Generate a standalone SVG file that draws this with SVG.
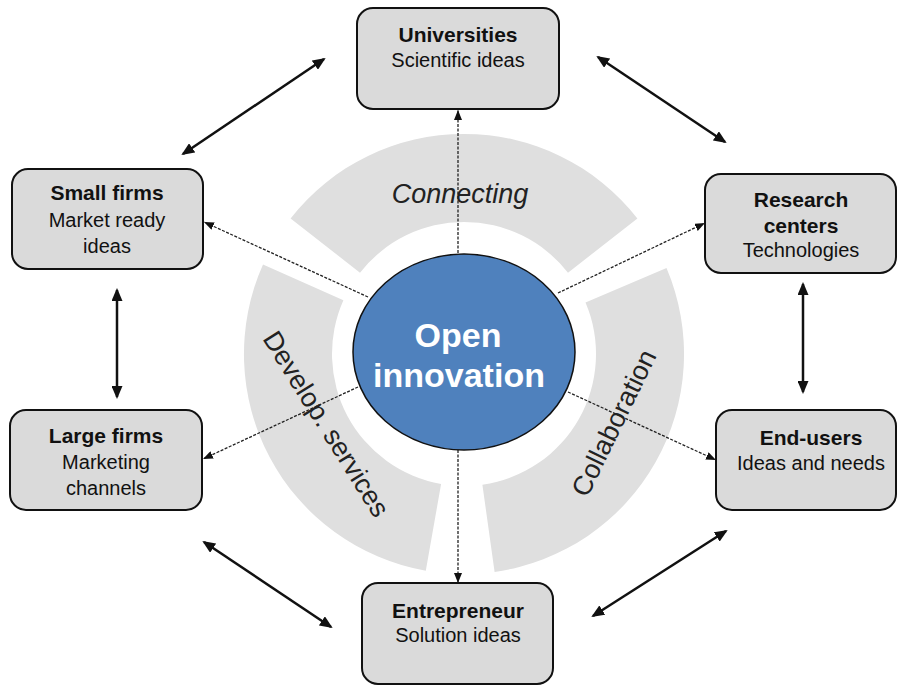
<svg xmlns="http://www.w3.org/2000/svg" width="897" height="686" viewBox="0 0 897 686">
<style>
.box{fill:#dadada;stroke:#111;stroke-width:2}
.t{font-family:"Liberation Sans",Arial,sans-serif;font-size:21px;font-weight:bold;fill:#111;text-anchor:middle}
.s{font-family:"Liberation Sans",Arial,sans-serif;font-size:20px;fill:#111;text-anchor:middle}
.ring{fill:#dfdfdf}
.rl{font-family:"Liberation Sans",Arial,sans-serif;font-size:27px;fill:#222;text-anchor:middle}
.dot{stroke:#222;stroke-width:1.3;stroke-dasharray:3 1.5;fill:none;marker-end:url(#sa)}
.dbl{stroke:#111;stroke-width:2.5;fill:none;marker-start:url(#la);marker-end:url(#la)}
.c{font-family:"Liberation Sans",Arial,sans-serif;font-size:34px;font-weight:bold;fill:#fff;text-anchor:middle}
</style>
<defs>
<marker id="sa" viewBox="0 0 10 8" refX="10" refY="4" markerWidth="10" markerHeight="8" markerUnits="userSpaceOnUse" orient="auto"><path d="M0,0 L10,4 L0,8 z" fill="#111"/></marker>
<marker id="la" viewBox="0 0 13 11" refX="11" refY="5.5" markerWidth="13" markerHeight="11" markerUnits="userSpaceOnUse" orient="auto-start-reverse"><path d="M0,0 L13,5.5 L0,11 z" fill="#111"/></marker>
</defs>
<rect width="897" height="686" fill="#fff"/>
<g id="ring">
<path class="ring" d="M290.6 218.5 A220 220 0 0 1 637.4 218.5 L568 272.7 A132 132 0 0 0 360 272.7 Z"/>
<path class="ring" d="M263 264.5 A220 220 0 0 0 425.8 570.7 L441.1 484 A132 132 0 0 1 343.4 300.3 Z"/>
<path class="ring" d="M494.6 571.9 A220 220 0 0 0 666.5 268 L585.5 302.4 A132 132 0 0 1 482.4 484.7 Z"/>
<text class="rl" x="460" y="203" font-size="28" font-style="italic">Connecting</text>
<text class="rl" transform="translate(326,424) rotate(58)" dy="9">Develop. services</text>
<text class="rl" transform="translate(614,423) rotate(-64)" dy="9">Collaboration</text>
</g>
<g id="connectors">
<line class="dot" x1="458" y1="253" x2="458" y2="110"/>
<line class="dot" x1="368" y1="297" x2="204" y2="222"/>
<line class="dot" x1="558" y1="293" x2="705" y2="223"/>
<line class="dot" x1="358" y1="387" x2="203" y2="459"/>
<line class="dot" x1="568" y1="392" x2="716" y2="460"/>
<line class="dot" x1="458" y1="450" x2="458" y2="583"/>
<line class="dbl" x1="183" y1="154" x2="324" y2="59"/>
<line class="dbl" x1="598" y1="57" x2="725" y2="142"/>
<line class="dbl" x1="117" y1="290" x2="117" y2="397"/>
<line class="dbl" x1="803" y1="284" x2="803" y2="392"/>
<line class="dbl" x1="204" y1="542" x2="331" y2="627"/>
<line class="dbl" x1="593" y1="616" x2="726" y2="531"/>
</g>
<g id="center">
<ellipse cx="464" cy="352" rx="111" ry="98" fill="#4f81bd" stroke="#111" stroke-width="1.5"/>
<text class="c" x="458" y="347">Open</text>
<text class="c" x="459" y="387">innovation</text>
</g>
<g id="universities">
<rect class="box" x="357" y="8" width="202" height="101" rx="16"/>
<text class="t" x="458" y="42">Universities</text>
<text class="s" x="458" y="67">Scientific ideas</text>
</g>
<g id="small-firms">
<rect class="box" x="12" y="169" width="191" height="100" rx="16"/>
<text class="t" x="107" y="200">Small firms</text>
<text class="s" x="107" y="227">Market ready</text>
<text class="s" x="107" y="253">ideas</text>
</g>
<g id="research-centers">
<rect class="box" x="705" y="174" width="191" height="99" rx="16"/>
<text class="t" x="801" y="207">Research</text>
<text class="t" x="801" y="233">centers</text>
<text class="s" x="801" y="257">Technologies</text>
</g>
<g id="large-firms">
<rect class="box" x="10" y="410" width="192" height="100" rx="16"/>
<text class="t" x="106" y="443">Large firms</text>
<text class="s" x="106" y="469">Marketing</text>
<text class="s" x="106" y="495">channels</text>
</g>
<g id="end-users">
<rect class="box" x="716" y="410" width="180" height="100" rx="16"/>
<text class="t" x="811" y="445">End-users</text>
<text class="s" x="811" y="470">Ideas and needs</text>
</g>
<g id="entrepreneur">
<rect class="box" x="362" y="583" width="191" height="101" rx="16"/>
<text class="t" x="458" y="618">Entrepreneur</text>
<text class="s" x="458" y="642">Solution ideas</text>
</g>
</svg>
